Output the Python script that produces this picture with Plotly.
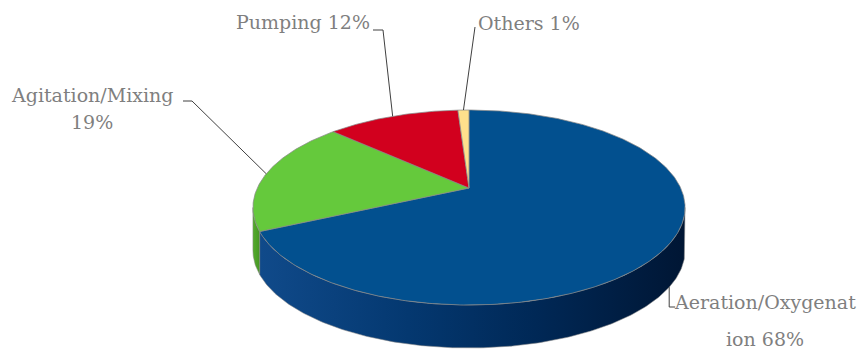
import numpy as np
import plotly.graph_objects as go

# Energy use shares by process
categories = ["Aeration/Oxygenation", "Agitation/Mixing", "Pumping", "Others"]
shares = [68, 19, 12, 1]
top_colors = ["#02508f", "#65c93c", "#d2001e", "#ffe08c"]
side_colors = [
    [[0, "rgb(16,74,138)"], [0.35, "rgb(4,56,112)"], [0.65, "rgb(0,40,86)"], [1, "rgb(0,22,52)"]],
    [[0, "rgb(84,172,44)"], [1, "rgb(70,150,36)"]],
    [[0, "rgb(170,0,24)"], [1, "rgb(140,0,20)"]],
    [[0, "rgb(220,190,110)"], [1, "rgb(200,170,90)"]],
]
# label lines: "{v}" is replaced by the share of the slice
label_lines = [
    ["Aeration/Oxygenat", "ion {v}%"],
    ["Agitation/Mixing", "{v}%"],
    ["Pumping {v}%"],
    ["Others {v}%"],
]

# disc geometry in page pixels (tilted disc with mild perspective)
CX, CY = 469.0, 188.0
RX, RY, PERSP = 211.7, 93.6, 0.2
DEPTH = 43.0
EDGE = "rgba(135,135,135,0.9)"
TEXT = "#7f7f7f"
FONT = "DejaVu Serif"


def rim(theta_deg, drop=0.0):
    t = np.radians(theta_deg)
    w = 1 + PERSP * np.sin(t)
    return CX + RX * np.cos(t) / w, CY - RY * np.sin(t) / w + drop


def arc(a, b, drop=0.0, n=None):
    n = n or max(4, int(abs(a - b) * 1.5))
    th = np.linspace(a, b, n)
    return rim(th, drop)


# slice angle ranges, clockwise from 12 o'clock
bounds = []
start = 90.0
for v in shares:
    end = start - v * 3.6
    bounds.append((start, end))
    start = end

# visible side band (front half of the disc)
vis_hi = -np.degrees(np.arcsin(PERSP))
vis_lo = -180 - vis_hi

fig = go.Figure()

# side walls
for (a0, a1), cs in zip(bounds, side_colors):
    for off in (0.0, -360.0):
        lo = max(a1, vis_lo + off)
        hi = min(a0, vis_hi + off)
        if hi <= lo:
            continue
        tx, ty = arc(lo, hi)
        bx, by = arc(hi, lo, DEPTH)
        xs = np.concatenate([tx, bx, tx[:1]])
        ys = np.concatenate([ty, by, ty[:1]])
        fig.add_trace(go.Scatter(
            x=xs, y=ys, mode="lines", fill="toself",
            fillgradient=dict(type="horizontal", colorscale=cs),
            line=dict(color=EDGE, width=0.6),
            hoverinfo="skip", showlegend=False))

# top face slices
for (a0, a1), col in zip(bounds, top_colors):
    ax, ay = arc(a0, a1)
    xs = np.concatenate([[CX], ax, [CX]])
    ys = np.concatenate([[CY], ay, [CY]])
    fig.add_trace(go.Scatter(
        x=xs, y=ys, mode="lines", fill="toself", fillcolor=col,
        line=dict(color=EDGE, width=0.8),
        hoverinfo="skip", showlegend=False))

# label placement: (text anchor x, xanchor, first line y, line step, leader elbow)
placements = [
    dict(x=765, xanchor="center", y=302, step=37, side=True),
    dict(x=92, xanchor="center", y=95, step=27, elbow=[(192, 101), (183, 101)]),
    dict(x=372, xanchor="right", y=22, step=26, elbow=[(383, 30), (373, 30)]),
    dict(x=476, xanchor="left", y=23, step=26, elbow=[(475, 27)]),
]

for (a0, a1), v, lines, p in zip(bounds, shares, label_lines, placements):
    mid = (a0 + a1) / 2
    if p.get("side"):
        sx, sy = rim(mid, DEPTH)
        lx = [sx, sx, sx + 6]
        ly = [sy, 307, 307]
    else:
        sx, sy = rim(mid)
        lx = [sx] + [e[0] for e in p["elbow"]]
        ly = [sy] + [e[1] for e in p["elbow"]]
    fig.add_trace(go.Scatter(
        x=lx, y=ly, mode="lines", line=dict(color="#404040", width=1),
        hoverinfo="skip", showlegend=False))
    for i, ln in enumerate(lines):
        fig.add_annotation(
            x=p["x"], y=p["y"] + i * p["step"], xref="x", yref="y",
            text=ln.replace("{v}", str(v)), showarrow=False,
            xanchor=p["xanchor"], yanchor="middle",
            font=dict(family=FONT, size=19, color=TEXT))

fig.update_layout(
    width=858, height=351,
    margin=dict(l=0, r=0, t=0, b=0),
    paper_bgcolor="white", plot_bgcolor="white",
    xaxis=dict(range=[0, 858], visible=False, fixedrange=True),
    yaxis=dict(range=[351, 0], visible=False, fixedrange=True),
)

fig.write_html("out.html")
